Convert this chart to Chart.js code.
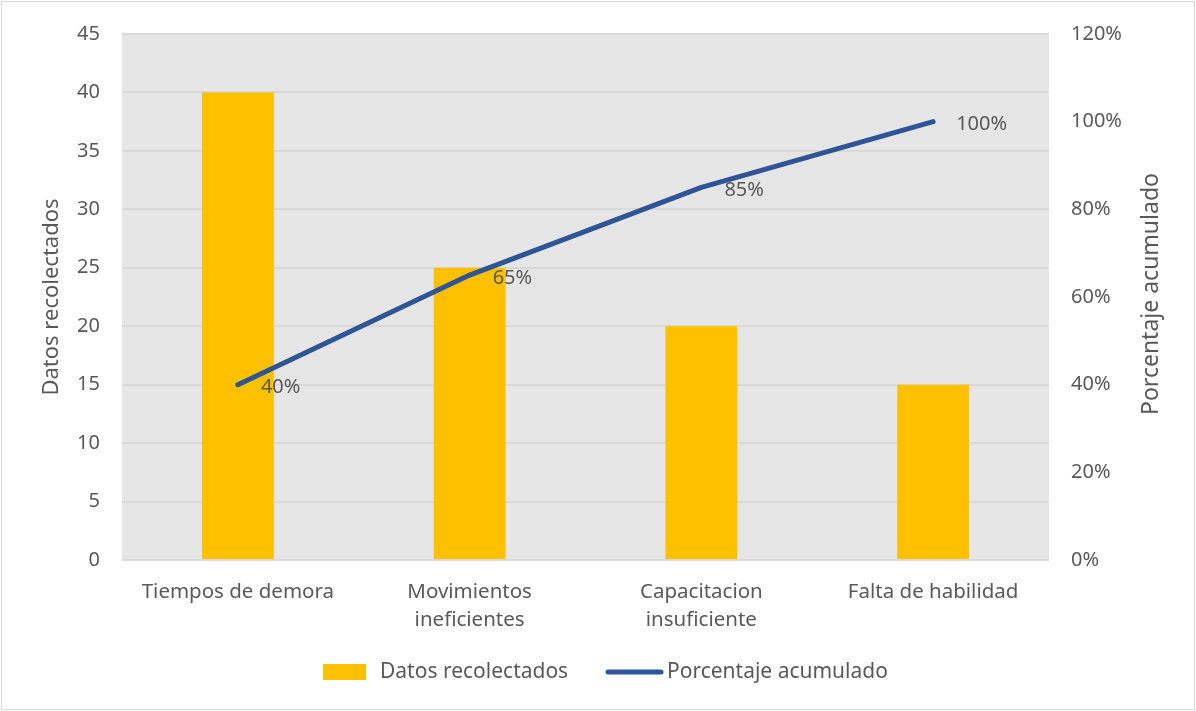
<!DOCTYPE html>
<html lang="es">
<head>
<meta charset="UTF-8">
<title>Pareto</title>
<script src="https://cdn.jsdelivr.net/npm/chart.js"></script>
<style>
  body { margin: 0; background: #fff; }
  canvas { display: block; }
</style>
</head>
<body>
<canvas id="pareto" width="1196" height="711"></canvas>
<script>
const categories = ['Tiempos de demora', ['Movimientos', 'ineficientes'], ['Capacitacion', 'insuficiente'], 'Falta de habilidad'];
const datos = [40, 25, 20, 15];
const acumulado = [40, 65, 85, 100];
const leftTicks = [0, 5, 10, 15, 20, 25, 30, 35, 40, 45];
const rightTicks = [0, 20, 40, 60, 80, 100, 120];

const TXT = '#595959';
const FONT = 'Noto Sans, Open Sans, sans-serif';

// gray plot background + outer frame
const backdrop = {
  id: 'backdrop',
  beforeDraw(chart) {
    const c = chart.ctx, a = chart.chartArea;
    c.save();
    c.fillStyle = '#e6e6e6';
    c.fillRect(a.left, a.top, a.right - a.left, a.bottom - a.top);
    c.strokeStyle = '#d9d9d9';
    c.lineWidth = 1;
    c.strokeRect(1.5, 1.5, chart.width - 3, chart.height - 3);
    c.restore();
  }
};

// value labels, right axis title and legend
const extras = {
  id: 'extras',
  afterDraw(chart) {
    const c = chart.ctx;
    c.save();
    c.font = '20px ' + FONT;
    c.fillStyle = TXT;
    c.textBaseline = 'middle';
    c.textAlign = 'left';
    const meta = chart.getDatasetMeta(1);
    meta.data.forEach((pt, i) => {
      c.fillText(acumulado[i] + '%', pt.x + 23, pt.y + 3);
    });

    // right axis title, bottom-to-top
    c.save();
    c.translate(1151, 294);
    c.rotate(-Math.PI / 2);
    c.textAlign = 'center';
    c.font = '23px ' + FONT;
    c.fillText('Porcentaje acumulado', 0, 0);
    c.restore();

    // legend
    const ly = 672;
    c.fillStyle = '#FFC000';
    c.fillRect(323, ly - 8, 43, 16);
    c.fillStyle = TXT;
    c.font = '21px ' + FONT;
    c.fillText('Datos recolectados', 380, ly);
    c.strokeStyle = '#2F5597';
    c.lineWidth = 5;
    c.lineCap = 'round';
    c.beginPath();
    c.moveTo(608, ly);
    c.lineTo(661, ly);
    c.stroke();
    c.fillText('Porcentaje acumulado', 667, ly);
    c.restore();
  }
};

new Chart(document.getElementById('pareto'), {
  data: {
    labels: categories,
    datasets: [
      {
        type: 'bar',
        label: 'Datos recolectados',
        data: datos,
        backgroundColor: '#FFC000',
        barPercentage: 0.31,
        categoryPercentage: 1,
        yAxisID: 'y',
        order: 2
      },
      {
        type: 'line',
        label: 'Porcentaje acumulado',
        data: acumulado,
        borderColor: '#2F5597',
        borderWidth: 5,
        borderCapStyle: 'round',
        borderJoinStyle: 'round',
        pointRadius: 0,
        tension: 0,
        yAxisID: 'y1',
        order: 1
      }
    ]
  },
  options: {
    responsive: false,
    animation: false,
    layout: { padding: { top: 28, left: 0, right: 0, bottom: 0 } },
    plugins: {
      legend: { display: false },
      tooltip: { enabled: false }
    },
    scales: {
      x: {
        grid: { display: false, drawTicks: false },
        border: { display: false },
        ticks: { color: TXT, font: { size: 20.5, family: FONT, lineHeight: 1.38 }, padding: 18, maxRotation: 0 },
        afterFit(s) { s.height = 151; }
      },
      y: {
        position: 'left',
        min: 0, max: 45,
        afterBuildTicks(s) { s.ticks = leftTicks.map(v => ({ value: v })); },
        grid: { color: '#d9d9d9', lineWidth: 2, drawTicks: false },
        border: { display: false },
        ticks: { color: TXT, font: { size: 20, family: FONT }, padding: 22 },
        title: { display: true, text: 'Datos recolectados', color: TXT, font: { size: 22, family: FONT }, padding: { top: 39, bottom: 0 } },
        afterFit(s) { s.width = 122; }
      },
      y1: {
        position: 'right',
        min: 0, max: 120,
        afterBuildTicks(s) { s.ticks = rightTicks.map(v => ({ value: v })); },
        grid: { display: false, drawTicks: false },
        border: { display: false },
        ticks: { color: TXT, font: { size: 20, family: FONT }, padding: 22, callback: v => v + '%' },
        afterFit(s) { s.width = 147; }
      }
    }
  },
  plugins: [backdrop, extras]
});
</script>
</body>
</html>
